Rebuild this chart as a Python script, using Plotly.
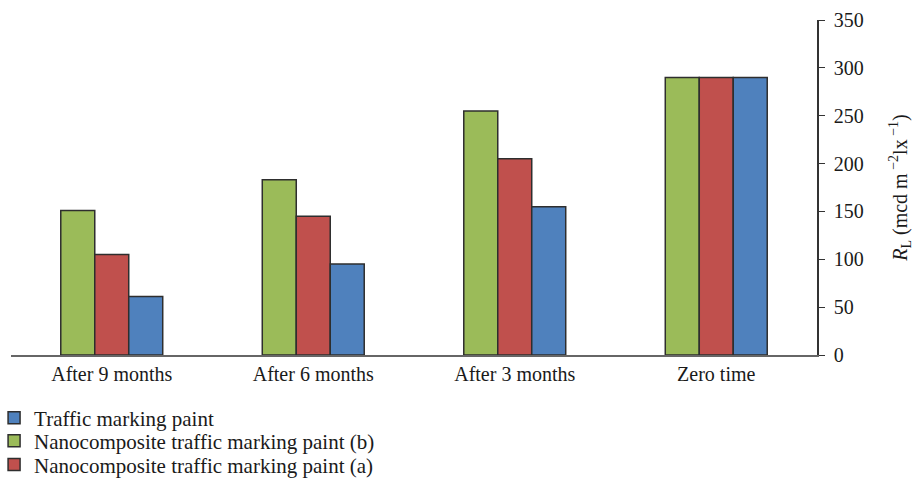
import plotly.graph_objects as go

categories = ["After 9 months", "After 6 months", "After 3 months", "Zero time"]
nano_b = [151, 183, 255, 290]
nano_a = [105, 145, 205, 290]
traffic = [61, 95, 155, 290]

y_ticks = [0, 50, 100, 150, 200, 250, 300, 350]

FONT = "Liberation Serif"
OUTLINE = dict(color="#2e2e2e", width=1.5)

fig = go.Figure()
fig.add_trace(go.Bar(x=categories, y=nano_b, name="Nanocomposite traffic marking paint (b)",
                     marker=dict(color="#9BBB59", line=OUTLINE), legend="legend2"))
fig.add_trace(go.Bar(x=categories, y=nano_a, name="Nanocomposite traffic marking paint (a)",
                     marker=dict(color="#C0504D", line=OUTLINE), legend="legend3"))
fig.add_trace(go.Bar(x=categories, y=traffic, name="Traffic marking paint",
                     marker=dict(color="#4F81BD", line=OUTLINE), legend="legend"))

# one legend per row so the rows sit at a tight spacing
legend_style = dict(x=-0.021, xanchor="left", yanchor="middle",
                    font=dict(family=FONT, size=21, color="#1a1a1a"),
                    itemwidth=30, bgcolor="rgba(0,0,0,0)")

fig.update_layout(
    width=914, height=481,
    margin=dict(l=11, r=97, t=20, b=126, autoexpand=False),
    paper_bgcolor="white", plot_bgcolor="white",
    barmode="group", bargap=0.494, bargroupgap=0,
    font=dict(family=FONT, size=20, color="#1a1a1a"),
    showlegend=True,
    legend=dict(y=-0.188, **legend_style),
    legend2=dict(y=-0.257, **legend_style),
    legend3=dict(y=-0.328, **legend_style),
    xaxis=dict(showline=True, linecolor="#666666", linewidth=1.5,
               ticks="", showgrid=False, tickfont=dict(size=20)),
    yaxis=dict(side="right", range=[0, 350], tickvals=y_ticks,
               showline=True, linecolor="#333333", linewidth=1.5,
               ticks="outside", ticklen=6, tickcolor="#333333",
               ticklabelstandoff=5,
               showgrid=False, zeroline=False, tickfont=dict(size=20),
               title=dict(text="<i>R</i><sub>L</sub> (mcd m<sup> −2</sup>lx<sup> −1</sup>)",
                          font=dict(size=20), standoff=32)),
)

fig.write_html("out.html")
